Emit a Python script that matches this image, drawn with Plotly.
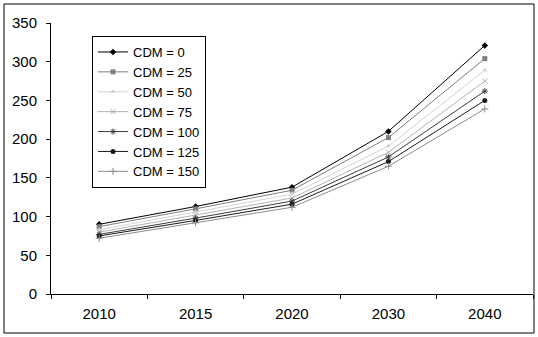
import plotly.graph_objects as go

# Years on the category axis
years = ["2010", "2015", "2020", "2030", "2040"]

# One series per CDM level
cdm_0 = [90, 113, 138, 210, 321]
cdm_25 = [87, 110, 134, 202, 304]
cdm_50 = [83, 106, 129, 191, 289]
cdm_75 = [80, 102, 124, 183, 275]
cdm_100 = [77, 98, 120, 177, 262]
cdm_125 = [75, 95, 116, 171, 250]
cdm_150 = [72, 92, 112, 165, 239]

series_names = ["CDM = 0", "CDM = 25", "CDM = 50", "CDM = 75",
                "CDM = 100", "CDM = 125", "CDM = 150"]
series_values = [cdm_0, cdm_25, cdm_50, cdm_75, cdm_100, cdm_125, cdm_150]

y_ticks = [0, 50, 100, 150, 200, 250, 300, 350]

styles = [
    dict(color="#000000", symbol="diamond", size=5),
    dict(color="#7f7f7f", symbol="square", size=5),
    dict(color="#d4d4d4", symbol="triangle-up", size=5),
    dict(color="#b3b3b3", symbol="x-thin", size=5),
    dict(color="#3c3c3c", symbol="asterisk", size=5),
    dict(color="#1a1a1a", symbol="circle", size=5),
    dict(color="#8c8c8c", symbol="cross-thin", size=5),
]

FONT = "Arial, 'Liberation Sans', sans-serif"

fig = go.Figure()
for name, vals, st in zip(series_names, series_values, styles):
    thin = st["symbol"] in ("x-thin", "asterisk", "cross-thin")
    fig.add_trace(go.Scatter(
        x=years, y=vals, name=name, mode="lines+markers",
        line=dict(color=st["color"], width=1),
        marker=dict(symbol=st["symbol"], size=st["size"], color=st["color"],
                    line=dict(color=st["color"], width=1 if thin else 0)),
    ))

L, R, T, B = 51, 533, 23, 294
W, H = 538, 337
pw, ph = R - L, B - T

fig.update_layout(
    width=W, height=H,
    margin=dict(l=L, r=W - R, t=T, b=H - B, pad=0),
    paper_bgcolor="white", plot_bgcolor="white",
    font=dict(family=FONT, size=15, color="#000000"),
    showlegend=True,
    legend=dict(
        x=(92 - L) / pw, y=1 - (36 - T) / ph, xanchor="left", yanchor="top",
        bgcolor="white", bordercolor="#000000", borderwidth=1,
        font=dict(family=FONT, size=13, color="#000000"),
        tracegroupgap=0, itemwidth=30,
    ),
    xaxis=dict(
        type="category", range=[-0.5, 4.5],
        showline=True, linecolor="#000000", linewidth=1,
        ticks="outside", tickson="boundaries", ticklen=4, tickcolor="#000000",
        ticklabelstandoff=6,
        showgrid=False, zeroline=False,
        tickfont=dict(family=FONT, size=15, color="#000000"),
    ),
    yaxis=dict(
        range=[0, 350], tickvals=y_ticks,
        showline=True, linecolor="#000000", linewidth=1,
        ticks="outside", ticklen=4, tickcolor="#000000",
        ticklabelstandoff=6,
        showgrid=False, zeroline=False,
        tickfont=dict(family=FONT, size=15, color="#000000"),
    ),
)

# Frame around the whole chart
fig.add_shape(
    type="rect", xref="paper", yref="paper",
    x0=(4 - L) / pw, x1=(534 - L) / pw,
    y0=(B - 333) / ph, y1=(B - 4) / ph,
    line=dict(color="#000000", width=1), fillcolor="rgba(0,0,0,0)",
    layer="below",
)

fig.write_html("out.html")
